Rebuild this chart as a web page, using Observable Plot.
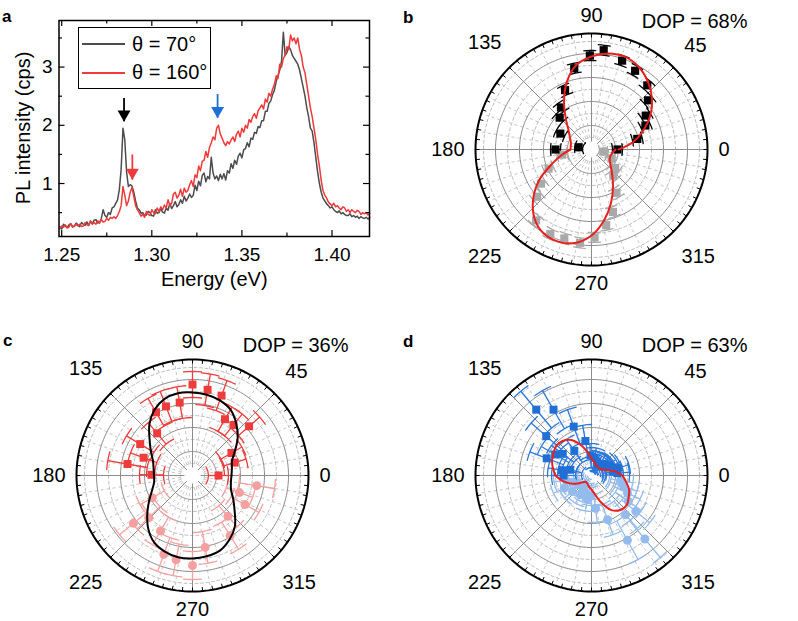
<!DOCTYPE html>
<html><head><meta charset="utf-8">
<script src="https://cdn.jsdelivr.net/npm/d3@7"></script>
<script src="https://cdn.jsdelivr.net/npm/@observablehq/plot@0.6"></script>
<style>
body{margin:0;background:#fff;font-family:"Liberation Sans",Arial,sans-serif}
#fig{position:relative;width:798px;height:621px;overflow:hidden;background:#fff}
.panel{position:absolute}
.lbl{position:absolute;font-weight:bold;font-size:17px;line-height:17px}
.ytitle{position:absolute;left:22.5px;top:128px;transform:translate(-50%,-50%) rotate(-90deg);white-space:nowrap;font-size:20px;line-height:22px}
.legend{position:absolute;left:78px;top:27px;width:131px;height:60px;border:1.3px solid #000;background:#fff}
.legend .row{position:absolute;left:3px;height:20px;display:flex;align-items:center;font-size:20px}
.legend .sw{width:43px;height:2px;margin-right:7px}
</style></head><body><div id="fig"></div>
<script>
// ---------------- Panel a: PL spectra (0.001 eV sampling from 1.249 eV) ----------------
const energyStart = 1.249, energyStep = 0.001;
const pl70 = [
  0.26,0.22,0.30,0.27,0.24,0.29,0.31,0.25,0.27,0.32,
  0.29,0.26,0.33,0.30,0.28,0.34,0.28,0.35,0.31,0.37,
  0.38,0.32,0.33,0.40,0.55,0.45,0.42,0.50,0.47,0.58,
  0.60,0.66,0.72,0.90,1.25,1.95,1.75,1.20,0.95,0.98,
  0.96,0.85,0.70,0.58,0.55,0.49,0.50,0.45,0.46,0.52,
  0.50,0.45,0.44,0.55,0.49,0.50,0.57,0.51,0.49,0.58,
  0.54,0.66,0.57,0.62,0.69,0.60,0.64,0.72,0.66,0.78,
  0.70,0.75,0.82,0.76,0.80,0.97,0.88,1.04,0.96,1.14,
  1.18,1.03,1.12,1.08,1.45,1.18,1.08,1.13,1.05,1.16,
  1.08,1.17,1.06,1.22,1.18,1.34,1.26,1.40,1.33,1.47,
  1.52,1.44,1.58,1.60,1.70,1.63,1.78,1.76,1.88,1.86,
  1.98,1.96,2.08,2.08,2.24,2.24,2.38,2.42,2.53,2.60,
  2.75,2.85,2.95,3.10,3.60,3.20,3.25,3.35,3.30,3.20,
  3.15,3.10,3.05,2.95,2.80,2.65,2.50,2.30,2.15,1.95,
  1.90,1.70,1.45,1.20,1.00,0.85,0.75,0.70,0.65,0.62,
  0.58,0.60,0.55,0.52,0.50,0.53,0.48,0.50,0.47,0.45,
  0.45,0.48,0.43,0.45,0.42,0.44,0.40,0.43,0.41,0.40,
  0.42,0.39,0.42];
const pl160 = [
  0.22,0.27,0.25,0.29,0.24,0.25,0.31,0.27,0.26,0.30,
  0.27,0.30,0.26,0.27,0.33,0.29,0.28,0.36,0.30,0.33,
  0.30,0.36,0.32,0.38,0.34,0.35,0.40,0.37,0.42,0.40,
  0.43,0.40,0.45,0.52,0.62,0.95,0.80,0.62,0.70,0.85,
  0.93,0.78,0.62,0.55,0.50,0.44,0.47,0.42,0.52,0.47,
  0.45,0.55,0.50,0.48,0.58,0.52,0.60,0.55,0.63,0.58,
  0.72,0.62,0.66,0.82,0.85,0.75,0.80,0.90,0.78,0.92,
  0.85,0.88,0.98,1.05,0.95,1.15,1.10,1.30,1.22,1.38,
  1.40,1.55,1.45,1.62,1.70,1.80,1.75,1.95,2.00,1.85,
  1.78,1.70,1.65,1.72,1.68,1.75,1.80,1.72,1.85,1.90,
  1.80,1.95,1.88,2.00,1.95,2.10,2.05,2.15,2.20,2.12,
  2.25,2.30,2.35,2.28,2.45,2.40,2.55,2.50,2.62,2.70,
  2.85,2.80,3.05,3.00,3.15,3.20,3.35,3.30,3.55,3.45,
  3.50,3.40,3.50,3.30,3.20,3.00,2.90,2.70,2.50,2.30,
  2.15,1.95,1.75,1.50,1.30,1.05,0.88,0.80,0.75,0.68,
  0.65,0.62,0.66,0.60,0.62,0.58,0.55,0.60,0.58,0.52,
  0.55,0.50,0.55,0.52,0.50,0.54,0.52,0.47,0.50,0.48,
  0.50,0.46,0.49];
const xMajor = [1.25, 1.30, 1.35, 1.40];
const xMinor = [1.275, 1.325, 1.375];
const yMajor = [1, 2, 3];
const yMinor = [0.5, 1.5, 2.5, 3.5];
const arrowEnergy = [1.2846, 1.2892, 1.3365];
const arrowFrom = [2.46, 1.49, 2.53];
const arrowTo = [2.06, 1.06, 2.12];
const arrowColor = ["#000000", "#f03a3a", "#1f6fd6"];
const legendLabels = ["θ = 70°", "θ = 160°"];
const lineColors = ["#4d4d4d", "#f03a3a"];

const spec = (vals) => vals.map((v, i) => ({e: energyStart + energyStep * i, v}));
const arrows = arrowEnergy.map((e, i) => ({e, from: arrowFrom[i], to: arrowTo[i], color: arrowColor[i]}));

const font = "Liberation Sans, Arial, sans-serif";
const fig = document.getElementById("fig");
function place(node, left, top) {
  node.classList.add("panel"); node.style.left = left + "px"; node.style.top = top + "px";
  fig.appendChild(node);
}

const aTop = 20, aBottom = 236, aLeft = 58.5, aRight = 369;
const aW = 398, aH = 310, frameH = aBottom - aTop, frameW = aRight - aLeft;
const tickStyle = {stroke: "#000", strokeWidth: 1.2};
const plotA = Plot.plot({
  width: aW, height: aH,
  marginLeft: aLeft, marginRight: aW - aRight, marginTop: aTop, marginBottom: aH - aBottom,
  x: {domain: [1.2485, 1.4208]},
  y: {domain: [0.09, 3.80]},
  color: {type: "identity"},
  style: {fontFamily: font, fontSize: "19px", background: "transparent", overflow: "visible"},
  marks: [
    Plot.line(spec(pl70), {x: "e", y: "v", stroke: lineColors[0], strokeWidth: 1.5}),
    Plot.line(spec(pl160), {x: "e", y: "v", stroke: lineColors[1], strokeWidth: 1.5}),
    Plot.ruleX(arrows, {x: "e", y1: "from", y2: "to", stroke: "color", strokeWidth: 1.8}),
    Plot.dot(arrows, {x: "e", y: "to", symbol: "triangle", rotate: 180, r: 4.8, fill: "color", stroke: null, dy: -7.5}),
    Plot.tickX(xMajor, {x: d => d, insetTop: frameH - 6, ...tickStyle}),
    Plot.tickX(xMajor, {x: d => d, insetBottom: frameH - 6, ...tickStyle}),
    Plot.tickX(xMinor, {x: d => d, insetTop: frameH - 3.5, ...tickStyle}),
    Plot.tickX(xMinor, {x: d => d, insetBottom: frameH - 3.5, ...tickStyle}),
    Plot.tickY(yMajor, {y: d => d, insetRight: frameW - 6, ...tickStyle}),
    Plot.tickY(yMajor, {y: d => d, insetLeft: frameW - 6, ...tickStyle}),
    Plot.tickY(yMinor, {y: d => d, insetRight: frameW - 3.5, ...tickStyle}),
    Plot.tickY(yMinor, {y: d => d, insetLeft: frameW - 3.5, ...tickStyle}),
    Plot.axisX({ticks: xMajor, tickSize: 0, tickPadding: 10.5, tickFormat: d => d.toFixed(2), label: null, fontSize: 19}),
    Plot.axisY({ticks: yMajor, tickSize: 0, tickPadding: 6.5, tickFormat: d => String(d), label: null, fontSize: 19}),
    Plot.frame({stroke: "#000", strokeWidth: 1.5}),
    Plot.text(["Energy (eV)"], {frameAnchor: "bottom", dy: 49, fontSize: 20, text: d => d})
  ]
});
place(plotA, 0, 0);

const yt = document.createElement("div");
yt.className = "ytitle"; yt.textContent = "PL intensity (cps)";
fig.appendChild(yt);

// legend
const leg = document.createElement("div");
leg.className = "legend";
legendLabels.forEach((t, i) => {
  const row = document.createElement("div");
  row.className = "row";
  row.style.top = (6 + 28.5 * i) + "px";
  const sw = document.createElement("div");
  sw.className = "sw"; sw.style.background = lineColors[i];
  const tx = document.createElement("span"); tx.textContent = t;
  row.appendChild(sw); row.appendChild(tx); leg.appendChild(row);
});
fig.appendChild(leg);

// ---------------- Polar panels (radius in arbitrary units, outer circle = 116) ----------------
const fitAnglesUpper = [0,10,20,30,40,50,60,70,80,90,100,110,120,130,140,150,160,170,180];
const fitAnglesLower = [180,190,200,210,220,230,240,250,260,270,280,290,300,310,320,330,340,350,360];
const angleLabels = [0, 45, 90, 135, 180, 225, 270, 315];
const majorRings = [24, 48, 72, 96];
const minorRings = [12, 36, 60, 84, 108];
const outerRadius = 116;

// panel b
const bFitUpper = [27,42,55,68,79,88,95,98.5,97.5,93,86,72,55,40,30,25,22,21,21];
const bFitLower = [21,30,42,60,76,89,96.5,98,95,86,72,57,43,32,25,21,20,21,24];
const bBlack = [[0,26,5],[13,47,5],[24,59,5],[32,64,5],[41,75,5],[49,85,5],[61,90,5],[71,94,5],[83,100,5],
  [91,94,5],[102,83,5],[114,65,5],[126,52,5],[135,45,5],[153,35,5],[170,13,4],[180,36,5]];
const bGray = [[190,30,5],[204,47,5],[214,61,5],[221,72,5],[232,90,5],[244,94,5],[253,93,5],[263,94,5],
  [272,88,5],[281,77,5],[289,66,5],[300,50,5],[310,34,5],[322,30,5],[336,22,5],[350,12,4]];

// panel c
const cFitUpper = [39,40,42,49,59,68,76,80,82,83,83.5,81.5,76,67,56,48,42,39.5,38.5];
const cFitLower = [38.5,39,43,50,59,69,77,81,83,83,82,80,74,66,55,47,41,39,39];
const cSquares = [[0,26,10],[17,44,12],[30,45,12],[41,75,14],[51,65,14],[60,65,14],[70,85,16],[80,87,16],
  [90,91,13],[100,74,16],[111,74,16],[120,73,16],[130,55,14],[149,61,16],[160,52,14],[170,66,20],[179,41,12]];
const cCircles = [[209,46,14],[219,76,18],[224,61,16],[240,64,16],[250,84,18],[259,86,16],[270,90,14],
  [280,73,16],[302,71,16],[311,54,14],[331,60,16],[340,50,14],[351,65,18]];

// panel d
const dFitUpper = [31,24,16,12,10.5,10.5,11,12,14,17,24,33,41,45,46,44,42,39,36];
const dFitLower = [36,30,23,16,10,8.5,9,10,12,14,19,29,40,45,46,43,40,35,31];
const dSquares = [[130,86,24],[120,76,22],[139,60,20],[110,52,18],[100,35,16],[159,48,18],[150,42,16],
  [93,20,12],[68,15,10],[41,16,10],[25,21,10],[16,27,12],[5,26,12],[170,30,14],[180,28,12],[55,14,10],
  [80,18,10],[10,22,10],[33,19,10],[47,16,9],[62,13,9],[143,36,14],[165,22,12],[125,30,14]];
const dCircles = [[311,52,18],[321,57,18],[290,47,16],[299,74,22],[310,83,24],[277,33,14],[341,34,14],
  [334,40,14],[200,20,12],[215,16,10],[230,14,10],[250,18,10],[260,24,12],[190,26,12],[350,30,12],
  [325,45,16],[240,22,10],[205,30,12],[270,20,10],[220,25,10]];

const deg = Math.PI / 180;
const toX = (r, a) => r * Math.cos(a * deg);
const toY = (r, a) => r * Math.sin(a * deg);
const W = 398, H = 310, CX = 191, CY = 155, R = outerRadius;

function polarPanel(cfg) {
  const circle = radii => radii.flatMap(r => d3.range(0, 361, 2).map(a => ({r, a})));
  const spokesMinor = d3.range(0, 360, 9).filter(a => a % 45 !== 0);
  const spokesMajor = d3.range(0, 360, 45);
  const outerTicks = d3.range(0, 360, 5);
  const fitPts = (vals, angs) => vals.map((r, i) => ({r, a: angs[i]}));
  const labelR = a => {
    const c = Math.abs(Math.cos(a * deg)), s = Math.abs(Math.sin(a * deg));
    const halfW = String(a).length * 0.556 * 20 / 2, halfH = 7.2;
    return R + 11 + 7 * Math.abs(Math.sin(2 * a * deg)) + c * halfW + s * halfH;
  };
  const marks = [
    Plot.line(circle(minorRings), {x: d => toX(d.r, d.a), y: d => toY(d.r, d.a), z: "r", stroke: "#bdbdbd", strokeWidth: 1, strokeDasharray: "3,2.5"}),
    Plot.link(spokesMinor, {x1: a => toX(12, a), y1: a => toY(12, a), x2: a => toX(R, a), y2: a => toY(R, a), stroke: "#c6c6c6", strokeWidth: 1, strokeDasharray: "3,3"}),
    Plot.line(circle(majorRings), {x: d => toX(d.r, d.a), y: d => toY(d.r, d.a), z: "r", stroke: "#8c8c8c", strokeWidth: 1}),
    Plot.link(spokesMajor, {x1: () => 0, y1: () => 0, x2: a => toX(R, a), y2: a => toY(R, a), stroke: "#8c8c8c", strokeWidth: 1}),
    Plot.dot([0], {x: () => 0, y: () => 0, r: 8, fill: "white", stroke: null}),
    Plot.link(outerTicks, {x1: a => toX(R - 4, a), y1: a => toY(R - 4, a), x2: a => toX(R, a), y2: a => toY(R, a), stroke: "#000", strokeWidth: 1}),
    Plot.line(circle([R]), {x: d => toX(d.r, d.a), y: d => toY(d.r, d.a), stroke: "#000", strokeWidth: 2})
  ];
  for (const set of cfg.sets) {
    const caps = [];
    set.data.forEach((d, i) => {
      for (const s of [-1, 1]) {
        const rr = d[1] + s * d[2];
        if (rr <= 2) continue;
        const h = Math.min(40, (set.cap / rr) / deg);
        for (let k = -2; k <= 2; k++) caps.push({key: i + "_" + s, r: rr, a: d[0] + h * k / 2});
      }
    });
    marks.push(
      Plot.link(set.data, {x1: d => toX(Math.max(0, d[1] - d[2]), d[0]), y1: d => toY(Math.max(0, d[1] - d[2]), d[0]),
        x2: d => toX(d[1] + d[2], d[0]), y2: d => toY(d[1] + d[2], d[0]), stroke: set.err, strokeWidth: 1.3}),
      Plot.line(caps, {x: d => toX(d.r, d.a), y: d => toY(d.r, d.a), z: "key", stroke: set.err, strokeWidth: 1.3})
    );
  }
  for (const set of cfg.sets) {
    marks.push(Plot.dot(set.data, {x: d => toX(d[1], d[0]), y: d => toY(d[1], d[0]), symbol: set.symbol, r: set.size, fill: set.fill, stroke: null}));
  }
  marks.push(
    Plot.line(fitPts(cfg.fitUpper, fitAnglesUpper), {x: d => toX(d.r, d.a), y: d => toY(d.r, d.a), stroke: cfg.fitColor, strokeWidth: 2, curve: "catmull-rom"}),
    Plot.line(fitPts(cfg.fitLower, fitAnglesLower), {x: d => toX(d.r, d.a), y: d => toY(d.r, d.a), stroke: cfg.fitColor, strokeWidth: 2, curve: "catmull-rom"}),
    Plot.text(angleLabels, {x: a => toX(labelR(a), a), y: a => toY(labelR(a), a), text: a => String(a), fontSize: 20, textAnchor: "middle", lineAnchor: "middle", fill: "#000"}),
    Plot.text([cfg.dop], {frameAnchor: "top-right", textAnchor: "end", dx: 40, dy: cfg.dopDy, text: d => d, fontSize: 20, fill: "#000"})
  );
  return Plot.plot({
    width: W, height: H,
    marginLeft: CX - R, marginRight: W - CX - R, marginTop: CY - R, marginBottom: H - CY - R,
    x: {domain: [-R, R], axis: null},
    y: {domain: [-R, R], axis: null},
    style: {fontFamily: font, fontSize: "20px", background: "transparent", overflow: "visible"},
    marks
  });
}

place(polarPanel({
  fitUpper: bFitUpper, fitLower: bFitLower, fitColor: "#e8201e", dop: "DOP = 68%", dopDy: -19.5,
  sets: [
    {data: bGray, symbol: "square", size: 4.6, fill: "#a9a9a9", err: "#a9a9a9", cap: 6},
    {data: bBlack, symbol: "square", size: 4.6, fill: "#000", err: "#000", cap: 6}
  ]
}), 400, -6);

place(polarPanel({
  fitUpper: cFitUpper, fitLower: cFitLower, fitColor: "#000", dop: "DOP = 36%", dopDy: -22,
  sets: [
    {data: cCircles, symbol: "circle", size: 4.5, fill: "#f5a0a0", err: "#f5a0a0", cap: 9},
    {data: cSquares, symbol: "square", size: 4.5, fill: "#ee3b3b", err: "#ee3b3b", cap: 9}
  ]
}), 0.5, 319.5);

place(polarPanel({
  fitUpper: dFitUpper, fitLower: dFitLower, fitColor: "#e8201e", dop: "DOP = 63%", dopDy: -22,
  sets: [
    {data: dCircles, symbol: "circle", size: 4.5, fill: "#93bbee", err: "#93bbee", cap: 9},
    {data: dSquares, symbol: "square", size: 4.5, fill: "#1f6fd6", err: "#2a78dc", cap: 9}
  ]
}), 400, 319.5);

// panel letters
[["a", 2, 7.6], ["b", 403, 8.6], ["c", 3, 331.6], ["d", 403, 332.6]].forEach(([t, x, y]) => {
  const el = document.createElement("div");
  el.className = "lbl"; el.textContent = t; el.style.left = x + "px"; el.style.top = y + "px";
  fig.appendChild(el);
});
</script></body></html>
